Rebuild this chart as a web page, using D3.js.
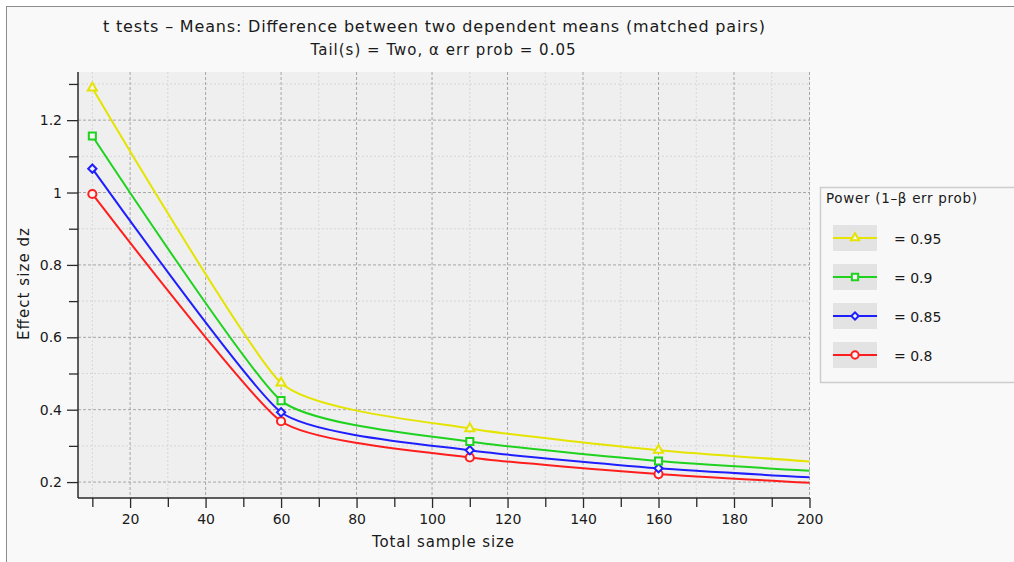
<!DOCTYPE html>
<html lang="en">
<head>
<meta charset="UTF-8">
<title>t tests - Means: Difference between two dependent means</title>
<script src="https://d3js.org/d3.v7.min.js"></script>
<style>
  body { margin: 0; background: #ffffff; }
  text { font-family: "DejaVu Sans", sans-serif; fill: #1a1a1a; }
</style>
</head>
<body>
<div id="chart"></div>
<script>
var sampleSizes = [10, 60, 110, 160, 200];
var markedSizes = [10, 60, 110, 160];
var powers = ["0.95", "0.9", "0.85", "0.8"];
var effect95 = [1.289, 0.474, 0.348, 0.288, 0.257];
var effect90 = [1.156, 0.425, 0.312, 0.258, 0.231];
var effect85 = [1.066, 0.393, 0.288, 0.238, 0.213];
var effect80 = [0.996, 0.368, 0.268, 0.222, 0.198];
var xMajorTicks = [20, 40, 60, 80, 100, 120, 140, 160, 180, 200];
var xMinorTicks = [10, 30, 50, 70, 90, 110, 130, 150, 170, 190];
var yMajorTicks = [0.2, 0.4, 0.6, 0.8, 1, 1.2];
var yMinorTicks = [0.3, 0.5, 0.7, 0.9, 1.1, 1.3];

var series = [
  {power: powers[0], values: effect95, color: "#e4e400", symbol: d3.symbolTriangle, size: 36, rot: 0},
  {power: powers[1], values: effect90, color: "#1ed21e", symbol: d3.symbolSquare, size: 50, rot: 0},
  {power: powers[2], values: effect85, color: "#1e1eff", symbol: d3.symbolSquare, size: 34, rot: 45},
  {power: powers[3], values: effect80, color: "#ff1e1e", symbol: d3.symbolCircle, size: 52, rot: 0}
];

var W = 1014, H = 562;
var svg = d3.select("#chart").append("svg")
    .attr("width", W).attr("height", H);

// outer frame
svg.append("rect")
    .attr("x", 6.5).attr("y", 6.5)
    .attr("width", W).attr("height", H)
    .attr("fill", "#f9f9f9").attr("stroke", "#8c8c8c");

var x = d3.scaleLinear().domain([6.2, 200]).range([78, 809.5]);
var y = d3.scaleLinear().domain([0.156, 1.333]).range([498, 72]);

// plot background
svg.append("rect")
    .attr("x", 78).attr("y", 72)
    .attr("width", 732).attr("height", 426)
    .attr("fill", "#efefef");

// grid lines
var grid = svg.append("g");
grid.selectAll(".vmin").data(xMinorTicks).enter().append("line")
    .attr("x1", d => x(d)).attr("x2", d => x(d))
    .attr("y1", 72).attr("y2", 498)
    .attr("stroke", "#d6d6d6").attr("stroke-dasharray", "2,2");
grid.selectAll(".hmin").data(yMinorTicks).enter().append("line")
    .attr("x1", 78).attr("x2", 810)
    .attr("y1", d => y(d)).attr("y2", d => y(d))
    .attr("stroke", "#d6d6d6").attr("stroke-dasharray", "2,2");
grid.selectAll(".vmaj").data(xMajorTicks).enter().append("line")
    .attr("x1", d => x(d)).attr("x2", d => x(d))
    .attr("y1", 72).attr("y2", 498)
    .attr("stroke", "#a6a6a6").attr("stroke-dasharray", "3,2");
grid.selectAll(".hmaj").data(yMajorTicks).enter().append("line")
    .attr("x1", 78).attr("x2", 810)
    .attr("y1", d => y(d)).attr("y2", d => y(d))
    .attr("stroke", "#a6a6a6").attr("stroke-dasharray", "3,2");

// axes
var fmt = d3.format("~g");
var xAxis = svg.append("g").attr("transform", "translate(0,498)")
    .call(d3.axisBottom(x).tickValues(xMajorTicks).tickSize(10).tickPadding(6).tickFormat(fmt));
svg.append("g").attr("transform", "translate(0,498)")
    .call(d3.axisBottom(x).tickValues(xMinorTicks).tickSize(9).tickFormat(""))
    .select(".domain").remove();
var yAxis = svg.append("g").attr("transform", "translate(78,0)")
    .call(d3.axisLeft(y).tickValues(yMajorTicks).tickSize(11).tickPadding(5).tickFormat(fmt));
svg.append("g").attr("transform", "translate(78,0)")
    .call(d3.axisLeft(y).tickValues(yMinorTicks).tickSize(9).tickFormat(""))
    .select(".domain").remove();
svg.selectAll(".domain").attr("stroke", "#2a2a2a").attr("stroke-width", 1.5);
svg.selectAll(".tick line").attr("stroke", "#2a2a2a").attr("stroke-width", 1.3);
svg.selectAll(".tick text").attr("font-size", 14).attr("font-family", "DejaVu Sans").attr("fill", "#1a1a1a");
// axis lines end flush with the plot box
xAxis.select(".domain").attr("d", "M78,0H810");
yAxis.select(".domain").attr("d", "M0,72V498");

// curves
var line = d3.line()
    .x((d, i) => x(sampleSizes[i]))
    .y(d => y(d))
    .curve(d3.curveCardinal.tension(0.5));

var curves = svg.append("g");
series.slice().reverse().forEach(function(s) {
  curves.append("path")
      .attr("d", line(s.values))
      .attr("fill", "none")
      .attr("stroke", s.color)
      .attr("stroke-width", 2);
  curves.selectAll(null)
      .data(markedSizes)
      .enter().append("path")
      .attr("d", d3.symbol().type(s.symbol).size(s.size))
      .attr("transform", (d, i) => "translate(" + x(d) + "," + y(s.values[i]) + ") rotate(" + s.rot + ")")
      .attr("fill", "#f4f4f4")
      .attr("stroke", s.color)
      .attr("stroke-width", 2);
});

// titles
svg.append("text")
    .attr("x", 434).attr("y", 32)
    .attr("text-anchor", "middle").attr("font-size", 16)
    .attr("textLength", 662).attr("lengthAdjust", "spacing")
    .text("t tests \u2013 Means: Difference between two dependent means (matched pairs)");
svg.append("text")
    .attr("x", 443).attr("y", 55)
    .attr("text-anchor", "middle").attr("font-size", 15)
    .attr("textLength", 265).attr("lengthAdjust", "spacing")
    .text("Tail(s) = Two, \u03b1 err prob = 0.05");

// axis labels
svg.append("text")
    .attr("x", 443).attr("y", 547)
    .attr("text-anchor", "middle").attr("font-size", 15)
    .attr("textLength", 142).attr("lengthAdjust", "spacing")
    .text("Total sample size");
svg.append("text")
    .attr("transform", "translate(29,284) rotate(-90)")
    .attr("text-anchor", "middle").attr("font-size", 15)
    .attr("textLength", 112).attr("lengthAdjust", "spacing")
    .text("Effect size dz");

// legend
var legend = svg.append("g");
legend.append("rect")
    .attr("x", 820.5).attr("y", 187.5)
    .attr("width", 220).attr("height", 195)
    .attr("fill", "#f8f8f8").attr("stroke", "#cdcdcd").attr("stroke-width", 1.5);
legend.append("text")
    .attr("x", 826).attr("y", 203)
    .attr("font-size", 13.5)
    .attr("textLength", 151).attr("lengthAdjust", "spacing")
    .text("Power (1\u2013\u03b2 err prob)");

var item = legend.selectAll(".item").data(series).enter().append("g")
    .attr("transform", (d, i) => "translate(0," + (238 + i * 39) + ")");
item.append("rect")
    .attr("x", 833).attr("y", -13).attr("width", 44).attr("height", 26)
    .attr("fill", "#e3e3e3");
item.append("line")
    .attr("x1", 833).attr("x2", 877)
    .attr("stroke", d => d.color).attr("stroke-width", 2);
item.append("path")
    .attr("d", d => d3.symbol().type(d.symbol).size(d.size * 0.8)())
    .attr("transform", d => "translate(855,0) rotate(" + d.rot + ")")
    .attr("fill", "#f4f4f4")
    .attr("stroke", d => d.color).attr("stroke-width", 2);
item.append("text")
    .attr("x", 894).attr("y", 5.5)
    .attr("font-size", 14)
    .text(d => "=\u00a0" + d.power);
</script>
</body>
</html>
